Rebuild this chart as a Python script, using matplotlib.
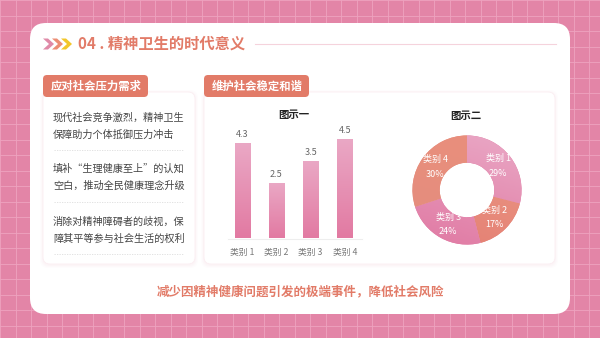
import numpy as np
import matplotlib
matplotlib.use('Agg')
import matplotlib.pyplot as plt
from matplotlib.patches import FancyBboxPatch, Rectangle, Polygon
from matplotlib.colors import LinearSegmentedColormap

plt.rcParams['font.family'] = ['Noto Sans CJK SC', 'DejaVu Sans']

# ── data ──────────────────────────────────────────────────────────────────
TITLE = '04 . 精神卫生的时代意义'
LEFT_TAB = '应对社会压力需求'
RIGHT_TAB = '维护社会稳定和谐'
LEFT_ITEMS = [
    ('现代社会竞争激烈，精神卫生', '保障助力个体抵御压力冲击'),
    ('填补“生理健康至上”的认知', '空白，推动全民健康理念升级'),
    ('消除对精神障碍者的歧视，保', '障其平等参与社会生活的权利'),
]
BAR_TITLE = '图示一'
bar_cats = ['类别 1', '类别 2', '类别 3', '类别 4']
bar_vals = [4.3, 2.5, 3.5, 4.5]
PIE_TITLE = '图示二'
pie_cats = ['类别 1', '类别 2', '类别 3', '类别 4']
pie_vals = [29, 17, 24, 30]
FOOTER = '减少因精神健康问题引发的极端事件，降低社会风险'

SALMON = '#e27b68'
PINK_BG = '#e385a7'

fig = plt.figure(figsize=(6, 3.38), dpi=100)
ax = fig.add_axes([0, 0, 1, 1])
ax.set_xlim(0, 600); ax.set_ylim(338, 0); ax.axis('off')

# background grid
ax.add_patch(Rectangle((0, 0), 600, 338, color=PINK_BG, zorder=0))
for g in np.arange(0, 601, 15.5):
    ax.plot([g, g], [0, 338], color='#eea3bf', lw=0.6, zorder=0.5)
for g in np.arange(0, 339, 15.5):
    ax.plot([0, 600], [g, g], color='#eea3bf', lw=0.6, zorder=0.5)

# main card
ax.add_patch(FancyBboxPatch((30, 23), 540, 291, boxstyle='round,pad=0,rounding_size=16',
                            fc='white', ec='none', zorder=1))

# title chevrons
for i, c in enumerate(['#e08aa8', '#ec8d74', '#f2c62a']):
    x0 = 43 + i * 9
    ax.add_patch(Polygon([[x0, 38.5], [x0 + 5, 38.5], [x0 + 11, 44], [x0 + 5, 49.5], [x0, 49.5], [x0 + 6, 44]],
                         closed=True, fc=c, ec='none', zorder=3))
ax.text(78, 44, TITLE, fontsize=11, color=SALMON, fontweight='bold', va='center', ha='left', zorder=3)
ax.plot([255, 556], [44, 44], color='#f5d3dc', lw=0.8, zorder=2)

# panels with soft shadow
def card(x, y, w, h):
    for k, a in enumerate([0.05, 0.04, 0.03]):
        ax.add_patch(FancyBboxPatch((x - k - 1, y - k), w + 2 * k + 2, h + 2 * k + 2,
                                    boxstyle='round,pad=0,rounding_size=8', fc='#f2b6c8',
                                    ec='none', alpha=a, zorder=1.5))
    ax.add_patch(FancyBboxPatch((x, y), w, h, boxstyle='round,pad=0,rounding_size=7',
                                fc='white', ec='#fbeef2', lw=0.6, zorder=2))

def tab(x, y, w, h, text):
    ax.add_patch(FancyBboxPatch((x, y), w, h, boxstyle='round,pad=0,rounding_size=4',
                                fc=SALMON, ec='none', zorder=3))
    ax.text(x + 8, y + h / 2 + 0.5, text, fontsize=8.2, color='white', fontweight='bold',
            va='center', ha='left', zorder=4)

card(43, 92, 152, 172)
card(204, 92, 351, 172)
tab(43, 75, 105, 22, LEFT_TAB)
tab(204, 75, 105, 22, RIGHT_TAB)

# left list
ys = [118, 169, 222]
for (l1, l2), y in zip(LEFT_ITEMS, ys):
    ax.text(53, y, l1, fontsize=7.3, color='#444444', va='center', ha='left', zorder=3)
    ax.text(53, y + 17, l2, fontsize=7.3, color='#444444', va='center', ha='left', zorder=3)
for y in [150, 202, 254]:
    ax.plot([54, 184], [y, y], color='#dddddd', lw=0.6, ls=(0, (1.5, 1.5)), zorder=3)

# bar chart
bar_cmap = LinearSegmentedColormap.from_list('bp', ['#e27aa2', '#eaa8c5'])
bx = fig.add_axes([225 / 600, 1 - 238 / 338, 137 / 600, 110 / 338])
bx.set_xlim(-0.5, 3.5); bx.set_ylim(0, 5); bx.axis('off')
xs = np.arange(len(bar_vals))
bars = bx.bar(xs, bar_vals, width=0.44, color='#e58fb2', zorder=2)
grad = np.linspace(0, 1, 100).reshape(-1, 1)
for b in bars:
    im = bx.imshow(grad, extent=[b.get_x(), b.get_x() + b.get_width(), 0, b.get_height()],
                   origin='lower', aspect='auto', cmap=bar_cmap, zorder=3)
    im.set_clip_path(b)
    bx.text(b.get_x() + b.get_width() / 2, b.get_height() + 0.2, f'{b.get_height():g}',
            ha='center', va='bottom', fontsize=6.5, color='#666666')
bx.set_xlim(-0.5, 3.5); bx.set_ylim(0, 5)
ax.plot([228, 362], [238.5, 238.5], color='#eeeeee', lw=0.8, zorder=3)
for x, c in zip(xs, bar_cats):
    ax.text(242 + x * 34.3, 252, c, fontsize=6.3, color='#777777', ha='center', va='center', zorder=3)
ax.text(294, 115, BAR_TITLE, fontsize=7.5, color='#222222', fontweight='bold', ha='center', va='center', zorder=3)

# donut
pie_grads = [('#eaa8c6', '#df78a0'), ('#ec9a86', '#e47f73'), ('#eba6c6', '#e07aa3'), ('#ea8f7c', '#e38d7e')]
px = fig.add_axes([(467 - 60) / 600, 1 - (190 + 60) / 338, 120 / 600, 120 / 338])
wedges, _ = px.pie(pie_vals, startangle=90, counterclock=False, radius=1.0,
                   wedgeprops=dict(width=0.5, ec='none'), colors=[g[1] for g in pie_grads])
for w, (c0, c1) in zip(wedges, pie_grads):
    cm = LinearSegmentedColormap.from_list('w', [c1, c0])
    g2 = np.add.outer(np.linspace(1, 0, 50), np.linspace(0, 1, 50) * 0.3)
    im = px.imshow(g2 / g2.max(), extent=[-1, 1, -1, 1], cmap=cm, zorder=3)
    im.set_clip_path(w)
px.set_xlim(-1.1, 1.1); px.set_ylim(-1.1, 1.1); px.set_aspect('equal'); px.axis('off')
cum = 0
total = sum(pie_vals)
for c, v in zip(pie_cats, pie_vals):
    mid = np.deg2rad(90 - (cum + v / 2) / total * 360)
    cum += v
    r = 0.72
    tx, ty = r * np.cos(mid), r * np.sin(mid)
    px.text(tx, ty + 0.13, c, fontsize=6.5, color='white', ha='center', va='center', zorder=5)
    px.text(tx, ty - 0.13, f'{v}%', fontsize=6.5, color='white', ha='center', va='center', zorder=5)
ax.text(466, 116, PIE_TITLE, fontsize=7.5, color='#222222', fontweight='bold', ha='center', va='center', zorder=3)

# footer
ax.text(300, 292, FOOTER, fontsize=9, color=SALMON, fontweight='bold', ha='center', va='center', zorder=3)

fig.savefig('out.png', dpi=100)
